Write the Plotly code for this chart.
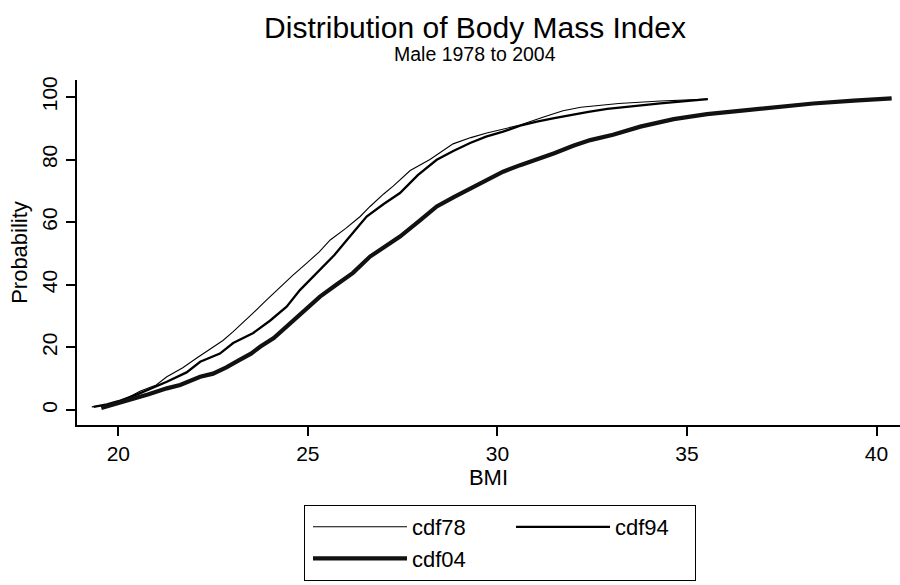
import plotly.graph_objects as go

# ---- data ----
bmi78 = [19.3, 19.7, 20.0, 20.3, 20.57, 21.0, 21.28, 21.7, 22.07, 22.4, 22.76, 23.03, 23.3,
         23.56, 23.9, 24.27, 24.6, 24.97, 25.3, 25.59, 26.0, 26.38, 26.64, 27.0, 27.25,
         27.7, 28.22, 28.83, 29.3, 29.72, 30.15, 30.6, 31.2, 31.73, 32.2, 32.7, 33.2,
         34.3, 35.55]
cdf78 = [1.0, 1.6, 2.5, 4.2, 6.0, 8.0, 10.6, 13.5, 16.6, 19.2, 22.2, 25.0, 28.0,
         31.0, 35.0, 39.4, 43.0, 46.9, 50.5, 54.3, 58.0, 61.8, 65.0, 69.0, 71.5,
         76.5, 80.0, 85.0, 87.0, 88.5, 89.7, 91.0, 93.5, 95.6, 96.7, 97.4, 97.9,
         98.7, 99.3]

bmi94 = [19.35, 19.7, 20.0, 20.5, 21.28, 21.8, 22.16, 22.68, 23.03, 23.56, 24.0, 24.44,
         24.79, 25.32, 25.7, 26.03, 26.55, 27.0, 27.43, 27.9, 28.4, 28.85, 29.28, 29.7,
         30.15, 30.6, 31.04, 31.5, 31.92, 32.4, 32.9, 33.2, 34.3, 35.55]
cdf94 = [1.0, 1.8, 2.8, 5.0, 9.0, 12.0, 15.4, 18.0, 21.4, 24.6, 28.5, 33.0,
         38.3, 44.7, 49.5, 54.3, 61.8, 65.8, 69.3, 75.0, 79.9, 82.8, 85.3, 87.3,
         88.9, 90.8, 92.1, 93.2, 94.2, 95.2, 96.2, 96.6, 97.9, 99.3]

bmi04 = [19.55, 19.9, 20.3, 20.8, 21.28, 21.63, 22.16, 22.5, 22.85, 23.03, 23.2, 23.5,
         23.74, 24.1, 24.44, 24.79, 25.32, 25.75, 26.19, 26.64, 27.0, 27.43, 27.95,
         28.4, 28.85, 29.28, 29.7, 30.15, 30.6, 31.04, 31.5, 32.0, 32.45, 33.05, 33.77,
         34.65, 35.53, 36.58, 37.46, 38.33, 39.4, 40.4]
cdf04 = [0.6, 1.8, 3.2, 5.0, 6.9, 8.0, 10.6, 11.6, 13.6, 15.0, 16.0, 18.0,
         20.2, 23.0, 26.6, 30.2, 36.2, 40.0, 43.8, 49.0, 52.0, 55.4, 60.5,
         65.0, 68.0, 70.8, 73.5, 76.1, 78.2, 79.9, 82.0, 84.4, 86.2, 87.9, 90.5,
         92.9, 94.5, 95.8, 96.9, 97.9, 98.8, 99.5]

x_ticks = [20, 25, 30, 35, 40]
y_ticks = [0, 20, 40, 60, 80, 100]

FONT = "Liberation Sans, Arial, Helvetica, sans-serif"

fig = go.Figure()
fig.add_trace(go.Scatter(x=bmi78, y=cdf78, mode="lines", name="cdf78",
                         legendgroup="a", line=dict(color="#000000", width=1.1)))
fig.add_trace(go.Scatter(x=bmi94, y=cdf94, mode="lines", name="cdf94",
                         legendgroup="b", legendwidth=75,
                         line=dict(color="#000000", width=2.3)))
fig.add_trace(go.Scatter(x=bmi04, y=cdf04, mode="lines", name="cdf04",
                         legendgroup="a", line=dict(color="#111111", width=4.2)))

fig.update_layout(
    width=900, height=585,
    paper_bgcolor="white", plot_bgcolor="white",
    margin=dict(l=77, r=0, t=80, b=160, autoexpand=False),
    font=dict(family=FONT, color="black"),
    title=dict(text="Distribution of Body Mass Index", x=475 / 900, xanchor="center",
               y=1 - 27 / 585, yanchor="middle", font=dict(size=30, color="black")),
    showlegend=True,
    legend=dict(orientation="h", traceorder="grouped", tracegroupgap=0,
                x=(304 - 77) / 823, xanchor="left", y=(425 - 505) / 345, yanchor="top",
                bordercolor="black", borderwidth=1, bgcolor="white", indentation=4,
                font=dict(size=22, color="black"), itemwidth=94, entrywidth=90),
    annotations=[dict(text="Male 1978 to 2004", xref="paper", yref="paper",
                      x=(475 - 77) / 823, y=(425 - 54) / 345, xanchor="center",
                      yanchor="middle", showarrow=False, font=dict(size=19.5, color="black"))],
)

fig.update_xaxes(range=[18.91, 40.62], tickvals=x_ticks, ticktext=[str(v) for v in x_ticks],
                 showgrid=False, zeroline=False, showline=True, linecolor="black",
                 linewidth=1.5, ticks="outside", ticklen=9, tickwidth=1.5, tickcolor="black",
                 tickfont=dict(size=21), ticklabelstandoff=0,
                 title=dict(text="BMI", font=dict(size=22), standoff=0))
fig.update_yaxes(range=[-4.8, 105.4], tickvals=y_ticks, ticktext=[str(v) for v in y_ticks],
                 showgrid=False, zeroline=False, showline=True, linecolor="black",
                 linewidth=1.5, ticks="outside", ticklen=9, tickwidth=1.5, tickcolor="black",
                 tickfont=dict(size=21), tickangle=-90, ticklabelstandoff=1,
                 title=dict(text="Probability", font=dict(size=22), standoff=4))

fig.write_html("out.html", config={"displayModeBar": False},
               post_script="document.body.style.margin='0';document.body.style.padding='0';")
